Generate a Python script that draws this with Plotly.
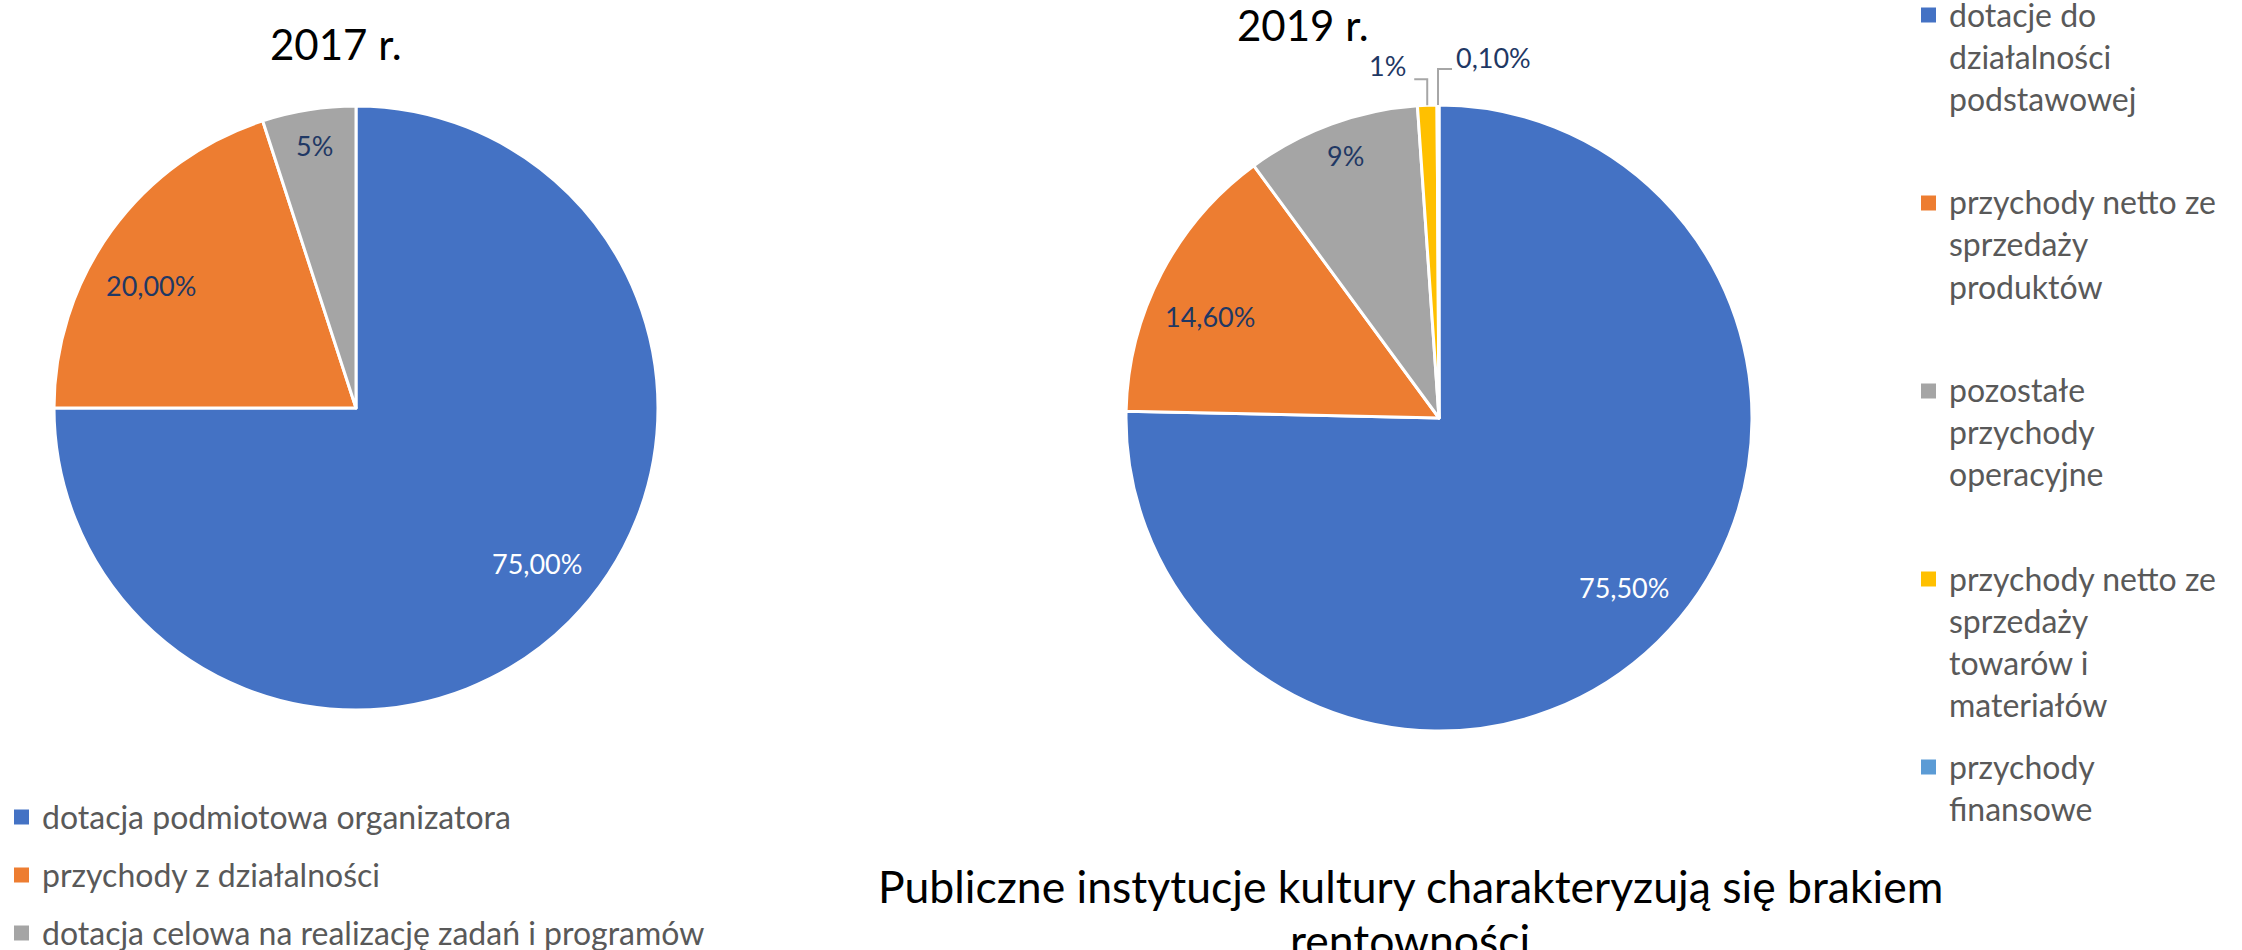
import math
import plotly.graph_objects as go

W, H = 2242, 950

# ---------------- data ----------------
title_2017 = "2017 r."
labels_2017 = ["dotacja podmiotowa organizatora",
               "przychody z działalności",
               "dotacja celowa na realizację zadań i programów"]
values_2017 = [75.0, 20.0, 5.0]
text_2017 = ["75,00%", "20,00%", "5%"]

title_2019 = "2019 r."
legend_lines_2019 = [["dotacje do", "działalności", "podstawowej"],
                     ["przychody netto ze", "sprzedaży", "produktów"],
                     ["pozostałe", "przychody", "operacyjne"],
                     ["przychody netto ze", "sprzedaży", "towarów i", "materiałów"],
                     ["przychody", "finansowe"]]
labels_2019 = [" ".join(l) for l in legend_lines_2019]
values_2019 = [75.5, 14.6, 9.0, 1.0, 0.1]
text_2019 = ["75,50%", "14,60%", "9%", "1%", "0,10%"]

caption_lines = ["Publiczne instytucje kultury charakteryzują się brakiem", "rentowności"]

colors = ["#4472C4", "#ED7D31", "#A5A5A5", "#FFC000", "#5B9BD5"]

# ---------------- layout geometry (pixels) ----------------
FONT = "Lato"
NAVY = "#1F3864"
LEG_COLOR = "#595959"
pie1 = dict(cx=356, cy=408, r=302)
pie2 = dict(cx=1439, cy=418, r=313)
# inside label placement: (fraction of radius, angular offset in degrees)
pos_2017 = [(0.79, -4.4), (0.79, -5.0), (0.88, 0.0)]
pos_2019 = [(0.80, -3.1), (0.80, -3.6), (0.89, 0.5), None, None]
# outside labels: (rise, horizontal run, text gap, text offset above line)
leaders_2019 = {3: (26, -13, 6, -14), 4: (36, 14, 2, -12)}
LABEL_SIZE = 27
LEG_SIZE = 32


def px(x):
    return x / W


def py(y):
    return 1 - y / H


def domain(p):
    return dict(x=[px(p["cx"] - p["r"]), px(p["cx"] + p["r"])],
                y=[py(p["cy"] + p["r"]), py(p["cy"] - p["r"])])


def mid_angle(values, i):
    tot = sum(values)
    return (sum(values[:i]) + values[i] / 2) / tot * 2 * math.pi


def polar(p, ang, f):
    return p["cx"] + f * p["r"] * math.sin(ang), p["cy"] - f * p["r"] * math.cos(ang)


fig = go.Figure()
fig.add_trace(go.Pie(labels=labels_2017, values=values_2017, sort=False,
                     direction="clockwise", rotation=0, textinfo="none",
                     marker=dict(colors=colors[:3], line=dict(color="white", width=3)),
                     domain=domain(pie1), showlegend=False, name="2017"))
fig.add_trace(go.Pie(labels=labels_2019, values=values_2019, sort=False,
                     direction="clockwise", rotation=0, textinfo="none",
                     marker=dict(colors=colors, line=dict(color="white", width=3)),
                     domain=domain(pie2), showlegend=False, name="2019"))

ann = []
shapes = []


def add_text(x, y, text, size, color, xanchor="center", yanchor="middle"):
    ann.append(dict(x=px(x), y=py(y), xref="paper", yref="paper", text=text,
                    showarrow=False, xanchor=xanchor, yanchor=yanchor,
                    font=dict(family=FONT, size=size, color=color)))


# titles
add_text(336, 44, title_2017, 42, "black")
add_text(1303, 25, title_2019, 42, "black")

# data labels
for p, vals, texts, poss in [(pie1, values_2017, text_2017, pos_2017),
                             (pie2, values_2019, text_2019, pos_2019)]:
    for i, t in enumerate(texts):
        ang = mid_angle(vals, i)
        col = "white" if i == 0 else NAVY
        if poss[i] is not None:
            f, dth = poss[i]
            x, y = polar(p, ang + math.radians(dth), f)
            add_text(x, y, t, LABEL_SIZE, col)
        else:
            rise, run, gap, dy = leaders_2019[i]
            ax, ay = polar(p, ang, 1.0)
            ex, ey = ax, ay - rise
            hx = ex + run
            shapes.append(dict(type="path", xref="paper", yref="paper",
                               path=f"M {px(ax)} {py(ay)} L {px(ex)} {py(ey)} L {px(hx)} {py(ey)}",
                               line=dict(color="#A6A6A6", width=2)))
            if run < 0:
                add_text(hx - gap, ey + dy, t, LABEL_SIZE, col, xanchor="right")
            else:
                add_text(hx + gap, ey + dy, t, LABEL_SIZE, col, xanchor="left")

# left legend
for i, lab in enumerate(labels_2017):
    y = 817 + i * 58
    shapes.append(dict(type="rect", xref="paper", yref="paper",
                       x0=px(14), x1=px(29), y0=py(y + 7.5), y1=py(y - 7.5),
                       fillcolor=colors[i], line=dict(width=0)))
    add_text(40, y - 1, lab, LEG_SIZE, LEG_COLOR, xanchor="left")

# right legend
for i, lines in enumerate(legend_lines_2019):
    y0 = 15 + i * 188
    shapes.append(dict(type="rect", xref="paper", yref="paper",
                       x0=px(1921), x1=px(1936), y0=py(y0 + 7.5), y1=py(y0 - 7.5),
                       fillcolor=colors[i], line=dict(width=0)))
    for j, line in enumerate(lines):
        add_text(1947, y0 - 1 + j * 42, line, LEG_SIZE, LEG_COLOR, xanchor="left")

# caption
for j, line in enumerate(caption_lines):
    add_text(1410, 885 + j * 54, line, 44.5, "black")

fig.update_layout(width=W, height=H, margin=dict(l=0, r=0, t=0, b=0),
                  paper_bgcolor="white", plot_bgcolor="white",
                  annotations=ann, shapes=shapes, showlegend=False)

fig.write_html("out.html", config={"displayModeBar": False},
               post_script="document.body.style.margin='0';document.body.style.overflow='hidden';")
